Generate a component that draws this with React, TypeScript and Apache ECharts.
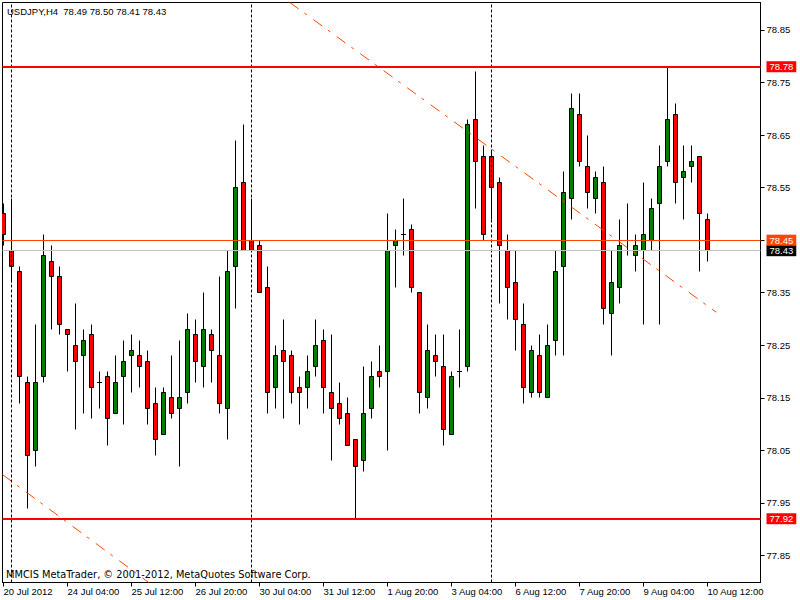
import React, { useEffect, useRef } from "react";
import * as echarts from "echarts";

// ---- data (USDJPY, H4) ----
const chartTitle = "USDJPY,H4  78.49 78.50 78.41 78.43";
const footerText = "MMCIS MetaTrader, © 2001-2012, MetaQuotes Software Corp.";

const opens = [
  78.50, 78.43, 78.39, 78.18, 78.05, 78.19, 78.41, 78.38, 78.28, 78.25,
  78.23, 78.27, 78.18, 78.19, 78.12, 78.19, 78.23, 78.23, 78.22, 78.14,
  78.08, 78.15, 78.13, 78.16, 78.27, 78.21, 78.27, 78.23, 78.13, 78.40,
  78.56, 78.45, 78.44, 78.36, 78.17, 78.24, 78.23, 78.17, 78.17, 78.21,
  78.26, 78.16, 78.14, 78.12, 78.07, 78.03, 78.13, 78.20, 78.20, 78.44,
  78.46, 78.47, 78.35, 78.15, 78.23, 78.21, 78.08, 78.20, 78.21, 78.68,
  78.61, 78.61, 78.56, 78.43, 78.37, 78.29, 78.16, 78.23, 78.15, 78.26,
  78.40, 78.53, 78.69, 78.59, 78.53, 78.56, 78.31, 78.36, 78.43, 78.42,
  78.43, 78.45, 78.52, 78.60, 78.69, 78.57, 78.59, 78.61, 78.49,
];
const highs = [
  78.52, 78.53, 78.40, 78.19, 78.29, 78.46, 78.44, 78.40, 78.28, 78.33,
  78.28, 78.29, 78.20, 78.20, 78.23, 78.26, 78.27, 78.26, 78.24, 78.17,
  78.17, 78.23, 78.26, 78.31, 78.30, 78.35, 78.28, 78.38, 78.43, 78.64,
  78.67, 78.53, 78.45, 78.40, 78.25, 78.30, 78.24, 78.19, 78.23, 78.30,
  78.28, 78.27, 78.18, 78.15, 78.07, 78.21, 78.22, 78.25, 78.50, 78.47,
  78.53, 78.48, 78.35, 78.29, 78.27, 78.27, 78.20, 78.28, 78.68, 78.77,
  78.63, 78.62, 78.57, 78.46, 78.43, 78.33, 78.25, 78.27, 78.29, 78.43,
  78.58, 78.73, 78.73, 78.65, 78.58, 78.59, 78.43, 78.49, 78.52, 78.46,
  78.56, 78.53, 78.63, 78.78, 78.71, 78.63, 78.63, 78.61, 78.50,
];
const lows = [
  78.44, 78.37, 78.14, 77.94, 78.02, 78.18, 78.28, 78.27, 78.20, 78.09,
  78.12, 78.11, 78.13, 78.06, 78.12, 78.10, 78.16, 78.17, 78.10, 78.04,
  78.08, 78.11, 78.02, 78.14, 78.18, 78.17, 78.18, 78.12, 78.07, 78.32,
  78.43, 78.43, 78.35, 78.12, 78.13, 78.11, 78.14, 78.10, 78.13, 78.19,
  78.12, 78.03, 78.10, 78.06, 77.92, 78.01, 78.11, 78.17, 78.05, 78.36,
  78.42, 78.35, 78.12, 78.13, 78.19, 78.06, 78.08, 78.17, 78.20, 78.51,
  78.45, 78.49, 78.33, 78.30, 78.24, 78.14, 78.15, 78.15, 78.15, 78.23,
  78.23, 78.49, 78.59, 78.51, 78.50, 78.29, 78.23, 78.33, 78.42, 78.39,
  78.29, 78.43, 78.29, 78.59, 78.52, 78.49, 78.56, 78.39, 78.41,
];
const closes = [
  78.46, 78.40, 78.19, 78.04, 78.18, 78.42, 78.38, 78.29, 78.27, 78.22,
  78.26, 78.17, 78.18, 78.11, 78.18, 78.22, 78.24, 78.21, 78.13, 78.07,
  78.16, 78.12, 78.15, 78.28, 78.22, 78.28, 78.24, 78.14, 78.39, 78.55,
  78.43, 78.43, 78.35, 78.16, 78.23, 78.22, 78.16, 78.16, 78.20, 78.25,
  78.17, 78.13, 78.11, 78.06, 78.02, 78.12, 78.19, 78.19, 78.43, 78.45,
  78.46, 78.36, 78.16, 78.24, 78.22, 78.09, 78.19, 78.20, 78.67, 78.60,
  78.46, 78.55, 78.44, 78.36, 78.30, 78.17, 78.24, 78.16, 78.25, 78.39,
  78.54, 78.70, 78.60, 78.54, 78.57, 78.32, 78.37, 78.44, 78.43, 78.44,
  78.46, 78.51, 78.59, 78.68, 78.56, 78.58, 78.60, 78.50, 78.43,
];

const timeTickIndex = [0, 8, 16, 24, 32, 40, 48, 56, 64, 72, 80, 88];
const timeTickLabels = [
  "20 Jul 2012", "24 Jul 04:00", "25 Jul 12:00", "26 Jul 20:00",
  "30 Jul 04:00", "31 Jul 12:00", "1 Aug 20:00", "3 Aug 04:00",
  "6 Aug 12:00", "7 Aug 20:00", "9 Aug 04:00", "10 Aug 12:00",
];
const priceTicks = [77.85, 77.95, 78.05, 78.15, 78.25, 78.35, 78.45, 78.55, 78.65, 78.75, 78.85];
const priceLabels = [77.85, 77.95, 78.05, 78.15, 78.25, 78.35, 78.55, 78.65, 78.75, 78.85];

const resistanceLevel = 78.78;
const supportLevel = 77.92;
const alertLevel = 78.45;
const bidLevel = 78.43;
const separatorIndex = [1, 31, 61];
const upperTrend = [[35.79, 78.9022], [89.09, 78.313]];
const lowerTrend = [[-0.125, 78.004], [18.16, 77.7987]];

const X_MIN = -0.125;
const X_MAX = 94.625;
const Y_MIN = 77.7987;
const Y_MAX = 78.9022;

const NUM_FONT = "Liberation Sans";
const NUM_SIZE = 9.5;

export default function App() {
  const ref = useRef<HTMLDivElement>(null);

  useEffect(() => {
    if (!ref.current) return;
    const chart = echarts.init(ref.current, null, { renderer: "svg" });

    const candles = opens.map((o, i) => [i, o, closes[i], lows[i], highs[i]]);
    const snap = (v: number) => Math.round(v - 0.5) + 0.5;

    const boxLabel = (bg: string) => ({
      show: true,
      position: "end",
      distance: 6,
      formatter: (p: any) => Number(p.value).toFixed(2),
      color: "#ffffff",
      backgroundColor: bg,
      padding: [0, 3, 0, 3],
      fontFamily: NUM_FONT,
      fontSize: NUM_SIZE,
      lineHeight: 11,
    });

    const option: any = {
      animation: false,
      backgroundColor: "#ffffff",
      grid: {
        left: 2.5,
        right: 39.5,
        top: 2.5,
        bottom: 17.5,
        show: true,
        borderColor: "#000000",
        borderWidth: 1,
        backgroundColor: "#ffffff",
        containLabel: false,
      },
      xAxis: {
        type: "value",
        min: X_MIN,
        max: X_MAX,
        position: "bottom",
        splitLine: { show: false },
        axisLine: { show: true, onZero: false, lineStyle: { color: "#000000", width: 1 } },
        axisTick: { show: true, length: 4, customValues: timeTickIndex, lineStyle: { color: "#000000" } },
        axisLabel: {
          show: true,
          customValues: timeTickIndex,
          formatter: (v: number) => {
            const i = timeTickIndex.indexOf(Math.round(v));
            return i >= 0 ? timeTickLabels[i] : "";
          },
          align: "left",
          margin: 4,
          color: "#000000",
          fontFamily: NUM_FONT,
          fontSize: NUM_SIZE,
        },
      },
      yAxis: {
        type: "value",
        min: Y_MIN,
        max: Y_MAX,
        position: "right",
        scale: true,
        splitLine: { show: false },
        axisLine: { show: true, onZero: false, lineStyle: { color: "#000000", width: 1 } },
        axisTick: { show: true, length: 4, customValues: priceTicks, lineStyle: { color: "#000000" } },
        axisLabel: {
          show: true,
          customValues: priceLabels,
          formatter: (v: number) => v.toFixed(2),
          align: "left",
          margin: 6,
          color: "#000000",
          fontFamily: NUM_FONT,
          fontSize: NUM_SIZE,
        },
      },
      graphic: [
        {
          type: "text",
          left: 7,
          top: 6,
          style: { text: chartTitle, fill: "#000000", font: `${NUM_SIZE}px "${NUM_FONT}"` },
        },
        {
          type: "text",
          left: 6,
          top: 569,
          style: { text: footerText, fill: "#000000", font: `9.8px "DejaVu Sans"` },
        },
      ],
      series: [
        {
          type: "custom",
          name: "USDJPY",
          data: candles,
          encode: { x: 0, y: [1, 2, 3, 4] },
          clip: true,
          renderItem: (params: any, api: any) => {
            const idx = api.value(0);
            const o = api.value(1);
            const c = api.value(2);
            const l = api.value(3);
            const h = api.value(4);
            const pO = api.coord([idx, o]);
            const pC = api.coord([idx, c]);
            const pH = api.coord([idx, h]);
            const pL = api.coord([idx, l]);
            const cx = Math.floor(pO[0] + 0.01) + 0.5;
            const yTop = snap(Math.min(pO[1], pC[1]));
            const yBot = snap(Math.max(pO[1], pC[1]));
            const yH = snap(pH[1]);
            const yL = snap(pL[1]);
            const children: any[] = [
              {
                type: "line",
                shape: { x1: cx, y1: yH, x2: cx, y2: yL },
                style: { stroke: "#000000", lineWidth: 1 },
              },
            ];
            if (yBot - yTop < 1) {
              children.push({
                type: "line",
                shape: { x1: cx - 2.5, y1: yTop, x2: cx + 2.5, y2: yTop },
                style: { stroke: "#000000", lineWidth: 1 },
              });
            } else {
              children.push({
                type: "rect",
                shape: { x: cx - 2, y: yTop, width: 4, height: yBot - yTop },
                style: { fill: c > o ? "#008000" : "#ff0000", stroke: "#000000", lineWidth: 1 },
              });
            }
            return { type: "group", children };
          },
        },
        {
          type: "line",
          name: "upper trend",
          data: upperTrend,
          showSymbol: false,
          symbol: "none",
          clip: true,
          lineStyle: { color: "#ff4500", width: 1, type: [11, 7, 3, 8] },
          silent: true,
        },
        {
          type: "line",
          name: "lower trend",
          data: lowerTrend,
          showSymbol: false,
          symbol: "none",
          clip: true,
          lineStyle: { color: "#ff4500", width: 1, type: [11, 7, 3, 8] },
          silent: true,
        },
        {
          type: "line",
          name: "levels",
          data: [],
          clip: false,
          silent: true,
          markLine: {
            symbol: "none",
            silent: true,
            animation: false,
            data: [
              ...separatorIndex.map((x) => ({
                xAxis: x,
                lineStyle: { color: "#000000", width: 1, type: [3, 2] },
                label: { show: false },
              })),
              {
                yAxis: bidLevel,
                lineStyle: { color: "#c0c0c0", width: 1, type: "solid" },
                label: { ...boxLabel("#000000") },
              },
              {
                yAxis: alertLevel,
                lineStyle: { color: "#ff4500", width: 1, type: "solid" },
                label: { ...boxLabel("#ff4500") },
              },
              {
                yAxis: resistanceLevel,
                lineStyle: { color: "#ff0000", width: 2, type: "solid" },
                label: { ...boxLabel("#ff0000") },
              },
              {
                yAxis: supportLevel,
                lineStyle: { color: "#ff0000", width: 2, type: "solid" },
                label: { ...boxLabel("#ff0000") },
              },
            ],
          },
        },
      ],
    };

    chart.setOption(option);
    return () => chart.dispose();
  }, []);

  return (
    <div
      ref={ref}
      style={{ position: "fixed", left: 0, top: 0, width: 800, height: 600, background: "#ffffff" }}
    />
  );
}
